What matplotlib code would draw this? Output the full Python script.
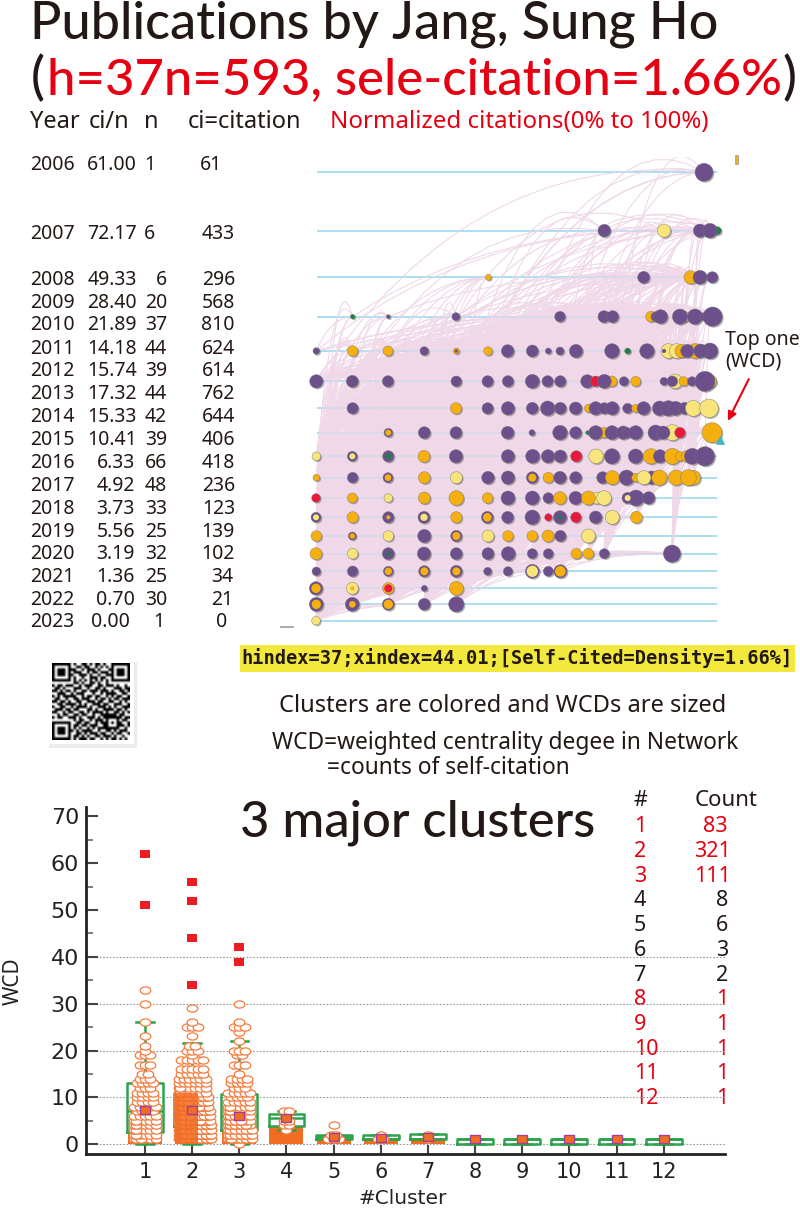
# citation report: year table, self-citation network, cluster box plot
import matplotlib
matplotlib.use("Agg")
from matplotlib import pyplot as plt
from matplotlib.collections import LineCollection
from matplotlib.path import Path
from matplotlib.patches import Rectangle
from matplotlib.transforms import Affine2D
import numpy as np

plt.rcParams['font.family'] = ['Noto Sans', 'DejaVu Sans']

# year table
years = [2006, 2007, 2008, 2009, 2010, 2011, 2012, 2013, 2014, 2015, 2016, 2017, 2018, 2019, 2020, 2021, 2022, 2023]
ci_n = ["61.00", "72.17", "49.33", "28.40", "21.89", "14.18", "15.74", "17.32", "15.33", "10.41", "6.33", "4.92", "3.73", "5.56", "3.19", "1.36", "0.70", "0.00"]
pubs = [1, 6, 6, 20, 37, 44, 39, 44, 42, 39, 66, 48, 33, 25, 32, 25, 30, 1]
cites = [61, 433, 296, 568, 810, 624, 614, 762, 644, 406, 418, 236, 123, 139, 102, 34, 21, 0]

# network rows, newest at the bottom (2023 has one node)
row_y = [97, 272, 412, 530, 633, 724, 805, 878, 949, 1013, 1074, 1132, 1188, 1241, 1294, 1345, 1393, 1442]

x06 = [1272]
r06 = [27]
c06 = "p"
x07 = [973, 1152, 1312, 1260, 1290]
r07 = [19, 20, 12, 20, 22]
c07 = "pygpp"
x08 = [625, 1091, 1232, 1260, 1297]
r08 = [9, 18, 20, 21, 17]
c08 = "opopp"
x09 = [218, 325, 528, 840, 972, 998, 1113, 1128, 1142, 1215, 1200, 1245, 1272, 1298]
r09 = [7, 6, 12, 16, 18, 18, 16, 15, 21, 15, 23, 23, 12, 29]
c09 = "gpppppoppopppp"
x10 = [109, 218, 324, 433, 529, 624, 683, 757, 805, 840, 888, 996, 1043, 1101, 1165, 1190, 1205, 1245, 1222, 1290, 1262]
r10 = [10, 16, 15, 13, 9, 13, 19, 18, 9, 12, 20, 22, 9, 22, 22, 22, 20, 22, 20, 24, 21]
c10 = "poopooppppppgpyyooppp"
x11 = [109, 217, 324, 529, 623, 684, 757, 803, 841, 922, 947, 995, 973, 1032, 1067, 1152, 1185, 1177, 1211, 1236, 1290, 1275]
r11 = [20, 18, 17, 16, 17, 17, 21, 17, 17, 20, 16, 16, 21, 14, 15, 12, 22, 16, 14, 14, 20, 30]
c11 = "ppppppppp" + "proppopypopop"
x12 = [218, 528, 623, 684, 757, 803, 841, 887, 925, 947, 973, 997, 1043, 1067, 1091, 1139, 1165, 1187, 1214, 1240, 1287]
r12 = [17, 17, 17, 20, 18, 22, 18, 19, 12, 20, 17, 20, 15, 12, 20, 22, 23, 21, 18, 24, 28]
c12 = "popppppp" + "oppppopppppyy"
x13 = [325, 433, 528, 683, 756, 840, 887, 923, 971, 947, 996, 1030, 1043, 1067, 1177, 1127, 1150, 1200, 1296]
r13 = [13, 18, 18, 19, 9, 22, 18, 6, 16, 21, 21, 20, 15, 21, 24, 23, 20, 16, 30]
c13 = "ppppppp" + "gopppppyppro"
x14 = [109, 217, 325, 432, 528, 684, 758, 804, 841, 889, 948, 996, 1067, 1113, 1160, 1140, 1177, 1200, 1222, 1237, 1275]
r14 = [13, 15, 17, 18, 20, 20, 21, 20, 19, 17, 22, 23, 22, 23, 12, 20, 24, 14, 18, 24, 29]
c14 = "yppopppppryppo" + "rpooopp"
x15 = [109, 218, 324, 433, 529, 624, 684, 757, 805, 840, 887, 968, 997, 1040, 1115, 1068, 1092, 1138, 1188, 1240, 1225]
r15 = [10, 16, 15, 18, 18, 19, 20, 18, 16, 19, 18, 18, 21, 23, 20, 13, 21, 23, 23, 22, 24]
c15 = "oppoypppopppoppoyoooo"
x16 = [108, 217, 325, 433, 529, 623, 684, 757, 805, 887, 840, 950, 972, 925, 1043, 1068, 1106]
r16 = [13, 15, 13, 18, 22, 16, 21, 21, 16, 20, 19, 18, 22, 21, 17, 24, 19]
c16 = "royoooppppoyyoppp"
x17 = [108, 218, 325, 432, 529, 622, 683, 757, 805, 840, 888, 947, 997, 1069]
r17 = [15, 17, 17, 18, 17, 18, 18, 22, 11, 20, 16, 19, 21, 18]
c17 = "poppoppprprpyo"
x18 = [109, 217, 325, 433, 529, 624, 684, 757, 804, 841, 925]
r18 = [16, 12, 16, 20, 17, 18, 16, 16, 18, 17, 21]
c18 = "opyppyooopy"
x19 = [108, 218, 325, 432, 529, 624, 685, 757, 805, 889, 925, 973, 1176]
r19 = [18, 16, 18, 20, 18, 18, 21, 15, 15, 16, 16, 15, 26]
c19 = "oypppppppoopp"
x20 = [109, 218, 325, 433, 529, 623, 684, 757, 805, 841]
r20 = [13, 16, 15, 17, 18, 12, 14, 21, 15, 20]
c20 = "pppppppppp"
x21 = [108, 217, 325, 433, 529]
r21 = [20, 18, 17, 9, 21]
c21 = "pyopo"
x22 = [109, 217, 325, 433, 529]
r22 = [21, 21, 18, 18, 23]
c22 = "ppppp"
x23 = [108]
r23 = [13]
c23 = "y"

node_x = [x06, x07, x08, x09, x10, x11, x12, x13, x14, x15, x16, x17, x18, x19, x20, x21, x22, x23]
node_r = [r06, r07, r08, r09, r10, r11, r12, r13, r14, r15, r16, r17, r18, r19, r20, r21, r22, r23]
node_c = [c06, c07, c08, c09, c10, c11, c12, c13, c14, c15, c16, c17, c18, c19, c20, c21, c22, c23]

# smaller discs sitting on top of a node
inner_row = [4, 4, 7, 8, 8, 9, 9, 10, 11, 11, 11, 11, 11, 11, 12, 12, 12, 13, 14, 14, 14, 14, 14, 15, 15, 15, 16, 16, 16]
inner_x = [529, 1152, 325, 217, 325, 324, 757, 1043, 108, 325, 432, 529, 622, 840, 217, 529, 757, 325, 325, 433, 529, 757, 841, 108, 217, 325, 109, 217, 325]
inner_r = [5, 6, 9, 9, 8, 10, 12, 9, 9, 6, 11, 12, 13, 6, 8, 12, 12, 6, 11, 12, 12, 17, 16, 14, 6, 12, 14, 10, 14]
inner_c = "ppoygooyyoyoogooogoooyooorooo"

node_colors = {"p": "#6c4f8b", "o": "#f5b010", "y": "#f8e47a", "r": "#e8193c", "g": "#17853f"}

# clusters
cluster_ids = [1, 2, 3, 4, 5, 6, 7, 8, 9, 10, 11, 12]
cluster_n = [83, 321, 111, 8, 6, 3, 2, 1, 1, 1, 1, 1]
q1 = [2.7, 3.8, 3, 3.8, 1, 1, 1, 0, 0, 0, 0, 0]
med = [7, 7, 6, 5.5, 1.5, 1, 1, 1, 1, 1, 1, 1]
q3 = [13, 11, 10.8, 6.5, 2, 2, 2.2, 1, 1, 1, 1, 1]
whisk_lo = [0, 0, 0, 3, 1, 1, 1, 0, 0, 0, 0, 0]
whisk_hi = [26, 21.5, 22, 7, 2, 2, 2.2, 1, 1, 1, 1, 1]
means = [7.2, 7.2, 6, 5.6, 1.5, 1.3, 1.5, 1, 1, 1, 1, 1]
outlier_x = [1, 1, 2, 2, 2, 2, 3, 3]
outlier_y = [62, 51, 56, 52, 44, 34, 42, 39]

pt_val1 = [1, 2, 3, 4, 5, 6, 7, 8, 9, 10, 11, 12, 13, 14, 15, 17, 19, 20, 21, 23, 26, 30, 33]
pt_cnt1 = [7, 6, 6, 6, 6, 5, 4, 5, 4, 4, 4, 3, 4, 3, 2, 3, 3, 1, 1, 1, 1, 1, 1]
pt_val2 = [1, 2, 3, 4, 5, 6, 7, 8, 9, 10, 11, 12, 13, 14, 15, 16, 18, 19, 20, 21, 23, 25, 26, 29]
pt_cnt2 = [30, 32, 30, 30, 28, 26, 26, 22, 20, 20, 7, 7, 6, 6, 5, 5, 5, 1, 3, 2, 1, 3, 1, 1]
pt_val3 = [0, 1, 2, 3, 4, 5, 6, 7, 8, 9, 10, 11, 12, 13, 14, 15, 17, 19, 20, 22, 24, 25, 26, 30]
pt_cnt3 = [1, 11, 10, 10, 9, 8, 7, 6, 6, 5, 4, 5, 3, 4, 4, 1, 3, 2, 3, 1, 1, 3, 1, 1]
pt_val4 = [3, 4, 5, 6, 7]
pt_cnt4 = [1, 2, 2, 1, 2]
pt_val5 = [1, 2, 4]
pt_cnt5 = [3, 2, 1]
pt_val6 = [1, 2]
pt_cnt6 = [2, 1]
pt_val7 = [1, 2]
pt_cnt7 = [1, 1]
swarm_vals = [pt_val1, pt_val2, pt_val3, pt_val4, pt_val5, pt_val6, pt_val7]
swarm_cnts = [pt_cnt1, pt_cnt2, pt_cnt3, pt_cnt4, pt_cnt5, pt_cnt6, pt_cnt7]

y_ticks = [0, 10, 20, 30, 40, 50, 60, 70]
grid_levels = [0, 10, 20, 30, 40]

qr_rows = [
    "11111110100110101101001111111",
    "10000010011011001010101000001",
    "10111011100101110100011011101",
    "10111010111001011011101011101",
    "10111011001110100100111011101",
    "10000010100100111011001000001",
    "11111110101010101010101111111",
    "00000000110100110100100000000",
    "10110111001011100110111010010",
    "01101000111001001101000111011",
    "11010110100110111011101001101",
    "00111001011100010010111100110",
    "10101111100101101100101011001",
    "01100100110111001011010110111",
    "11011010011001110110011001010",
    "00110111101010011101100111001",
    "10011001011110100111010100111",
    "01110110110001101001111011010",
    "11001011001101011110100110101",
    "00101100110110010011111101100",
    "10110011101001110101111111011",
    "00000000101100101110100010110",
    "11111110011011001011101011001",
    "10000010110110111001100011101",
    "10111010101001010111111110010",
    "10111011010111100100110101110",
    "10111010011010111011001011001",
    "10000010110101001101110100100",
    "11111110101110110010101101010",
]

DARK = "#231815"
RED = "#e60012"
BIG = ["Lato", "Noto Sans"]

fig = plt.figure(figsize=(8, 12.08), dpi=100)


def px_axes(left, top, right, bottom):
    return fig.add_axes([left / 800, 1 - bottom / 1208, (right - left) / 800, (bottom - top) / 1208])


ax = px_axes(0, 0, 800, 1208)
ax.set_xlim(0, 800)
ax.set_ylim(1208, 0)
ax.axis("off")

# headings
ax.text(30, 38, "Publications by Jang, Sung Ho", fontsize=37.5, family=BIG, fontweight="medium", color=DARK, va="baseline")
ax.text(31, 94, "(", fontsize=37.5, family=BIG, fontweight="medium", color=DARK, va="baseline")
ax.text(47, 94, "h=37n=593, sele-citation=1.66%", fontsize=36.6, family=BIG, fontweight="medium", color=RED, va="baseline")
ax.text(783, 94, ")", fontsize=37.5, family=BIG, fontweight="medium", color=DARK, va="baseline")

ax.text(30, 128, "Year", fontsize=17, color=DARK, va="baseline")
ax.text(89, 128, "ci/n", fontsize=17, color=DARK, va="baseline")
ax.text(144, 128, "n", fontsize=17, color=DARK, va="baseline")
ax.text(188, 128, "ci=citation", fontsize=17, color=DARK, va="baseline")
ax.text(330, 128, "Normalized citations(0% to 100%)", fontsize=17.3, color=RED, va="baseline")

# year table
text_y = [163, 232, 278, 301, 323, 347, 369, 392, 415, 438, 461, 484, 507, 530, 552, 575, 598, 620]
cin_right = [137] * 10 + [135] * 7 + [130]
n_right = [155, 155] + [167] * 15 + [164]
ci_right = [222] + [235] * 14 + [233, 233, 227]
for i in range(len(years)):
    ax.text(30, text_y[i] + 7, str(years[i]), fontsize=14, color=DARK, va="baseline")
    ax.text(cin_right[i], text_y[i] + 7, ci_n[i], fontsize=14, color=DARK, va="baseline", ha="right")
    ax.text(n_right[i], text_y[i] + 7, str(pubs[i]), fontsize=14, color=DARK, va="baseline", ha="right")
    ax.text(ci_right[i], text_y[i] + 7, str(cites[i]), fontsize=14, color=DARK, va="baseline", ha="right")

# network
net = px_axes(280, 157, 800, 640)
net.set_xlim(0, 1560)
net.set_ylim(1500, 51)
net.axis("off")

net.hlines(row_y, 110, 1310, color="#a5def2", lw=1.3, zorder=1)

xs, ys, rs, cs = [], [], [], []
for i in range(len(row_y)):
    for j in range(len(node_x[i])):
        xs.append(node_x[i][j])
        ys.append(row_y[i])
        rs.append(node_r[i][j])
        cs.append(node_colors[node_c[i][j]])
xs, ys, rs = np.array(xs), np.array(ys), np.array(rs)

# arcs from newer papers up to older ones, fewer to the oldest rows
t = np.linspace(0, 1, 15)[:, None]
bulge = [1.0, 1.12, 1.28]
arcs = []
for a in range(len(xs)):
    for b in range(len(xs)):
        if ys[b] >= ys[a] or xs[b] < xs[a] + 20:
            continue
        every = 23 if ys[b] < 300 else 9 if ys[b] < 460 else 4 if ys[b] < 560 else 1
        if (a * 7 + b * 3) % every != 0:
            continue
        p0 = np.array([xs[a], ys[a]])
        p2 = np.array([xs[b], ys[b]])
        dx, dy = p2 - p0
        p1 = p0 + [0.4 * dx, bulge[(a + b) % 3] * dy]
        arcs.append((1 - t) ** 2 * p0 + 2 * t * (1 - t) * p1 + t ** 2 * p2)
net.add_collection(LineCollection(arcs, colors="#f0d8e8", linewidths=0.8, zorder=2))
net.hlines(row_y, 110, 1310, color="#a5def2", lw=1.2, alpha=0.35, zorder=2.5)

sizes = (0.48 * rs) ** 2
net.scatter(xs + 4, ys + 4, s=sizes, color="#555555", alpha=0.45, linewidths=0, zorder=3)
net.scatter(xs, ys, s=sizes, c=cs, edgecolors="#777777", linewidths=0.3, zorder=4)
inner_y = [row_y[i] for i in inner_row]
inner_col = [node_colors[c] for c in inner_c]
net.scatter(inner_x, inner_y, s=(0.48 * np.array(inner_r)) ** 2, c=inner_col, linewidths=0, zorder=5)

# bits around the network
ax.text(725, 345, "Top one", fontsize=14, color=DARK, va="baseline")
ax.text(725, 367, "(WCD)", fontsize=14, color=DARK, va="baseline")
net.annotate("", xy=(1340, 850), xytext=(1410, 710), zorder=6,
             arrowprops=dict(arrowstyle="-|>", color="#e60012", lw=1.5, mutation_scale=13))
net.scatter([1320], [900], s=28, marker="^", color="#3fb8c0", zorder=6)
ax.add_patch(Rectangle((735, 155), 3, 9, fc="#f5b010", ec="#aaaaaa", lw=0.7))
ax.plot([281, 293], [627, 627], color="#999999", lw=1.2)

ax.add_patch(Rectangle((240, 645), 555, 27, fc="#f3e83c", ec="none"))
ax.text(517, 658.5, "hindex=37;xindex=44.01;[Self-Cited=Density=1.66%]", family="DejaVu Sans Mono",
        fontweight="bold", fontsize=13.4, color=DARK, ha="center", va="center")

# qr code
ax.add_patch(Rectangle((49, 662), 88, 86, fc="#ececec", ec="none"))
ax.add_patch(Rectangle((47, 660), 87, 84, fc="white", ec="none"))
qr = np.array([[1 - int(c) for c in row] for row in qr_rows])
ax.imshow(qr, cmap="gray", extent=(52, 130, 740, 663), aspect="auto", interpolation="bilinear", zorder=2)
ax.set_xlim(0, 800)
ax.set_ylim(1208, 0)

ax.text(503, 706, "Clusters are colored and WCDs are sized", fontsize=17, color=DARK, ha="center", va="center")
ax.text(505, 743, "WCD=weighted centrality degee in Network", fontsize=16.4, color=DARK, ha="center", va="center")
ax.text(327, 768, "=counts of self-citation", fontsize=16.4, color=DARK, va="center")
ax.text(240, 837, "3 major clusters", fontsize=36.5, family=BIG, fontweight="medium", color=DARK, va="baseline")

# cluster table
ax.text(634, 806, "#", fontsize=15.5, color=DARK, va="baseline")
ax.text(695, 806, "Count", fontsize=16, color=DARK, va="baseline")
list_y = [825, 850, 875, 899, 924, 949, 974, 998, 1023, 1048, 1072, 1097]
for i in range(len(cluster_ids)):
    col = RED if cluster_n[i] == 1 or i < 3 else DARK
    ax.text(634, list_y[i] + 7, str(cluster_ids[i]), fontsize=15.5, color=col, va="baseline")
    ax.text(731 if cluster_n[i] > 99 else 728, list_y[i] + 7, str(cluster_n[i]), fontsize=15.5, color=col, va="baseline", ha="right")

# box plot
bx = px_axes(86, 807, 725, 1154)
bx.patch.set_alpha(0)
bx.set_xlim(-0.25, 13.3)
bx.set_ylim(-2.1, 72)
bx.spines["top"].set_visible(False)
bx.spines["right"].set_visible(False)
bx.spines["left"].set_linewidth(2)
bx.spines["bottom"].set_linewidth(2)
bx.spines["left"].set_color("#222222")
bx.spines["bottom"].set_color("#222222")

bx.hlines(grid_levels, -0.25, 13.3, color="#999999", lw=0.8, linestyles=(0, (1.5, 1.5)), zorder=1)

bx.bar(cluster_ids, q1, width=0.72, color="#f26c22", zorder=2)
stats = []
for i in range(len(cluster_ids)):
    stats.append(dict(med=med[i], q1=q1[i], q3=q3[i], whislo=whisk_lo[i], whishi=whisk_hi[i], fliers=[]))
green = dict(color="#2ba24c", lw=1.8)
bx.bxp(stats, positions=cluster_ids, widths=0.76, capwidths=0.37, showfliers=False, manage_ticks=False,
       boxprops=green, medianprops=green, whiskerprops=green, capprops=green, zorder=3)

ell = Path.unit_circle().transformed(Affine2D().scale(1, 0.68))
for i in range(len(swarm_vals)):
    px, py = [], []
    wrap = 6 if i == 1 else 5
    for v, c in zip(swarm_vals[i], swarm_cnts[i]):
        for k in range(c):
            row_n = min(c, wrap)
            px.append(cluster_ids[i] + ((k % wrap) - (row_n - 1) / 2) * 0.115 + (k // wrap) * 0.03)
            py.append(v)
    bx.scatter(px, py, marker=ell, s=58, facecolor="white", edgecolor="#f47b3c", linewidths=0.9, zorder=4)

# the densest part of cluster 2 reads as a solid block
bx.bar([1.885], [11], width=0.49, color="#f26c22", alpha=0.88, zorder=5)

rect_o = Path([(-1, -0.7), (1, -0.7), (1, 0.7), (-1, 0.7), (-1, -0.7)])
bx.scatter(outlier_x, outlier_y, marker=rect_o, s=60, color="#ed1c24", linewidths=0, zorder=6)
rect_m = Path([(-1, -0.8), (1, -0.8), (1, 0.8), (-1, 0.8), (-1, -0.8)])
bx.scatter(cluster_ids, means, marker=rect_m, s=50, facecolor="#f26c22", edgecolor="#a0409a", linewidths=1, zorder=7)

bx.set_yticks(y_ticks)
bx.set_yticks([5, 15, 25, 35, 45, 55, 65], minor=True)
bx.set_xticks(cluster_ids)
bx.tick_params(axis="y", which="major", direction="in", length=8.6, width=1.5, color="#444444", labelsize=16, pad=5, labelcolor="#222222")
bx.tick_params(axis="y", which="minor", direction="in", length=5, width=1.2, color="#666666")
bx.tick_params(axis="x", which="major", direction="in", length=6.5, width=1.5, color="#444444", labelsize=15, pad=6, labelcolor="#222222")
for lab in bx.get_xticklabels() + bx.get_yticklabels():
    lab.set_family("DejaVu Sans")

ax.text(403, 1199, "#Cluster", fontsize=14.5, family="DejaVu Sans", color="#222222", ha="center", va="center")
ax.text(13, 981, "WCD", fontsize=15, color="#222222", rotation=90, ha="center", va="center")

fig.savefig("out.png", dpi=100)
